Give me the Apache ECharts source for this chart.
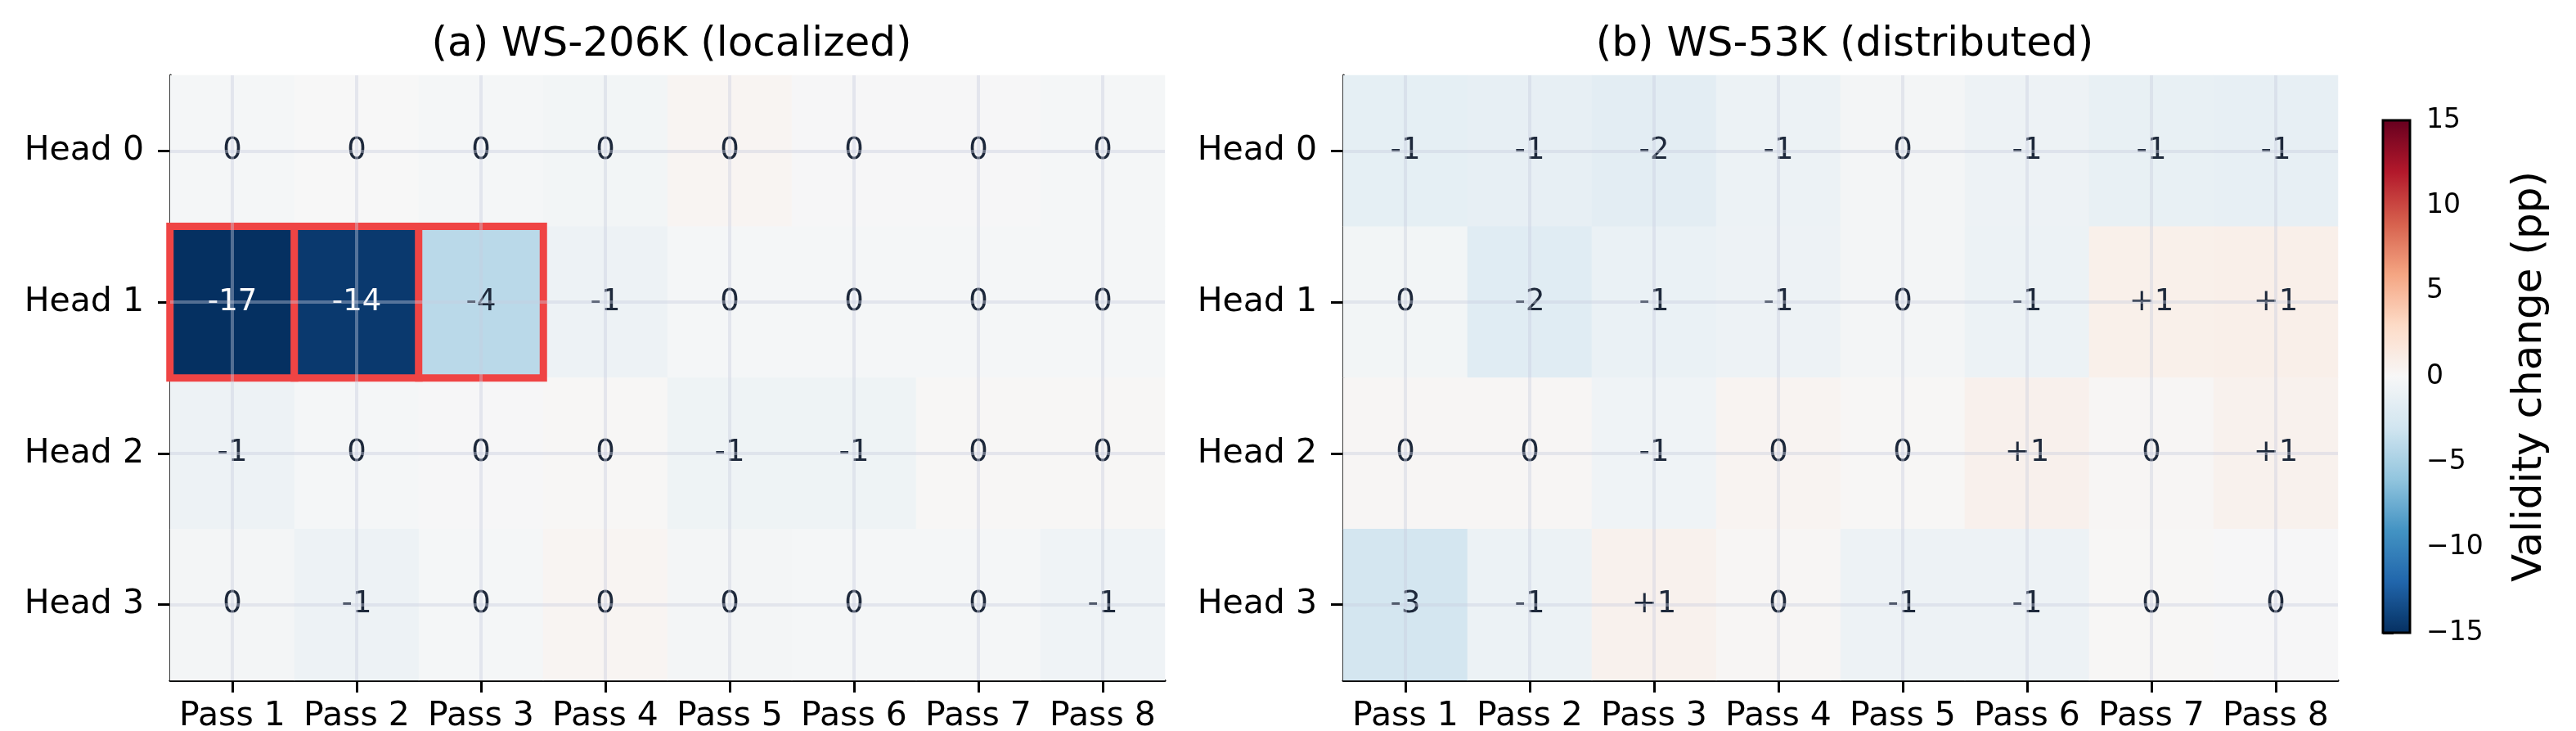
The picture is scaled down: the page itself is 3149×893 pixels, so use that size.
<!DOCTYPE html>
<html>
<head>
<meta charset="utf-8">
<script src="https://cdn.jsdelivr.net/npm/echarts@6/dist/echarts.min.js"></script>
<style>
  html, body { margin: 0; padding: 0; background: #fff; }
  #chart { width: 3149px; height: 893px; }
</style>
</head>
<body>
<div id="chart"></div>
<script>
const passes = ['Pass 1', 'Pass 2', 'Pass 3', 'Pass 4', 'Pass 5', 'Pass 6', 'Pass 7', 'Pass 8'];
const heads = ['Head 0', 'Head 1', 'Head 2', 'Head 3'];

// validity change (pp), rows = heads, cols = passes
const localized = [
  [-0.2, 0.0, -0.2, -0.4, 0.3, -0.1, -0.1, -0.2],
  [-17.2, -14.5, -4.1, -0.8, -0.2, -0.2, -0.2, -0.2],
  [-0.8, -0.2, -0.1, 0.1, -0.7, -0.7, 0.1, 0.1],
  [-0.3, -0.8, -0.2, 0.3, -0.3, -0.2, -0.2, -0.6]
];
const distributed = [
  [-1.4, -1.3, -1.6, -0.9, -0.3, -0.8, -1.2, -1.3],
  [-0.4, -1.8, -1.0, -0.8, -0.3, -0.9, 0.8, 0.9],
  [0.2, 0.2, -0.6, 0.4, 0.1, 0.7, 0.2, 0.6],
  [-2.8, -0.9, 0.6, 0.2, -0.8, -0.8, 0.1, -0.1]
];
// [pass index, head index] of outlined cells in panel (a)
const highlighted = [[0, 1], [1, 1], [2, 1]];

const titles = ['(a) WS-206K (localized)', '(b) WS-53K (distributed)'];
const cmap = ['#053061', '#2166ac', '#4393c3', '#92c5de', '#d1e5f0', '#f7f7f7',
              '#fddbc7', '#f4a582', '#d6604d', '#b2182b', '#67001f'];
const vmin = -15, vmax = 15;

const FONT = 'DejaVu Sans';

function cells(matrix, hl) {
  const normal = [], marked = [];
  matrix.forEach((row, y) => row.forEach((v, x) => {
    const item = { value: [x, y, v] };
    if (hl.some(h => h[0] === x && h[1] === y)) {
      item.itemStyle = { borderColor: '#ef4444', borderWidth: 9 };
      marked.push(item);
    } else {
      normal.push(item);
    }
  }));
  // outlined cells last so their borders sit on top
  return normal.concat(marked);
}

function fmt(p) {
  const r = Math.round(p.value[2]);
  const s = r > 0 ? '+' + r : (r === 0 ? '0' : String(r));
  return Math.abs(p.value[2]) > 10 ? '{w|' + s + '}' : '{d|' + s + '}';
}

const gridLines = passes.map(p => ({ xAxis: p })).concat(heads.map(h => ({ yAxis: h })));

const panelLeft = [208, 1642];
const grids = panelLeft.map(l => ({ left: l, top: 92, width: 1216, height: 739, outerBoundsMode: 'none' }));
grids.push({ left: 2913, top: 147, width: 33, height: 626, show: true, z: 10, outerBoundsMode: 'none',
             borderColor: '#000', borderWidth: 3, backgroundColor: 'transparent' });

const xAxes = [0, 1].map(i => ({
  type: 'category', gridIndex: i, data: passes,
  axisLine: { lineStyle: { color: '#000', width: 3 } },
  axisTick: { show: true, alignWithLabel: true, interval: 0, length: 15, lineStyle: { color: '#000', width: 3 } },
  axisLabel: { interval: 0, fontFamily: FONT, fontSize: 41, color: '#000', margin: 24 },
  splitLine: { show: false }
}));
xAxes.push({ type: 'value', gridIndex: 2, show: false, min: 0, max: 1 });

const yAxes = [0, 1].map(i => ({
  type: 'category', gridIndex: i, data: heads, inverse: true,
  axisLine: { lineStyle: { color: '#000', width: 3 } },
  axisTick: { show: true, alignWithLabel: true, interval: 0, length: 15, lineStyle: { color: '#000', width: 3 } },
  axisLabel: { interval: 0, fontFamily: FONT, fontSize: 41, color: '#000', margin: 32 },
  splitLine: { show: false }
}));
yAxes.push({
  type: 'value', gridIndex: 2, position: 'right', min: vmin, max: vmax, interval: 5,
  axisLine: { show: false },
  axisTick: { show: true, length: 13, lineStyle: { color: '#000', width: 3 } },
  axisLabel: { fontFamily: FONT, fontSize: 33, color: '#000', margin: 20,
               formatter: v => String(v).replace('-', '\u2212') },
  splitLine: { show: false },
  name: 'Validity change (pp)', nameLocation: 'middle', nameRotate: 90, nameGap: 122,
  nameTextStyle: { fontFamily: FONT, fontSize: 50, color: '#000' }
});

const series = [localized, distributed].map((m, i) => ({
  type: 'heatmap', xAxisIndex: i, yAxisIndex: i,
  data: cells(m, i === 0 ? highlighted : []),
  label: {
    show: true, formatter: fmt,
    rich: {
      w: { color: '#ffffff', fontFamily: FONT, fontSize: 37 },
      d: { color: '#1e293b', fontFamily: FONT, fontSize: 37 }
    }
  },
  emphasis: { disabled: true },
  markLine: {
    silent: true, symbol: 'none', animation: false,
    label: { show: false },
    lineStyle: { type: 'solid', color: 'rgba(200,205,222,0.4)', width: 4 },
    emphasis: { disabled: true },
    data: gridLines
  }
}));

const chart = echarts.init(document.getElementById('chart'), null, { renderer: 'canvas' });
chart.setOption({
  animation: false,
  backgroundColor: '#fff',
  title: titles.map((t, i) => ({
    text: t, left: panelLeft[i] + 608, top: 25, textAlign: 'center',
    textStyle: { fontFamily: FONT, fontSize: 50, fontWeight: 'normal', color: '#000' }
  })),
  grid: grids,
  xAxis: xAxes,
  yAxis: yAxes,
  visualMap: {
    type: 'continuous', min: vmin, max: vmax, seriesIndex: [0, 1],
    calculable: false, realtime: false, text: null, showLabel: false,
    left: 2913, top: 147, itemWidth: 33, itemHeight: 626, padding: 0,
    inRange: { color: cmap }
  },
  series: series
});
</script>
</body>
</html>
